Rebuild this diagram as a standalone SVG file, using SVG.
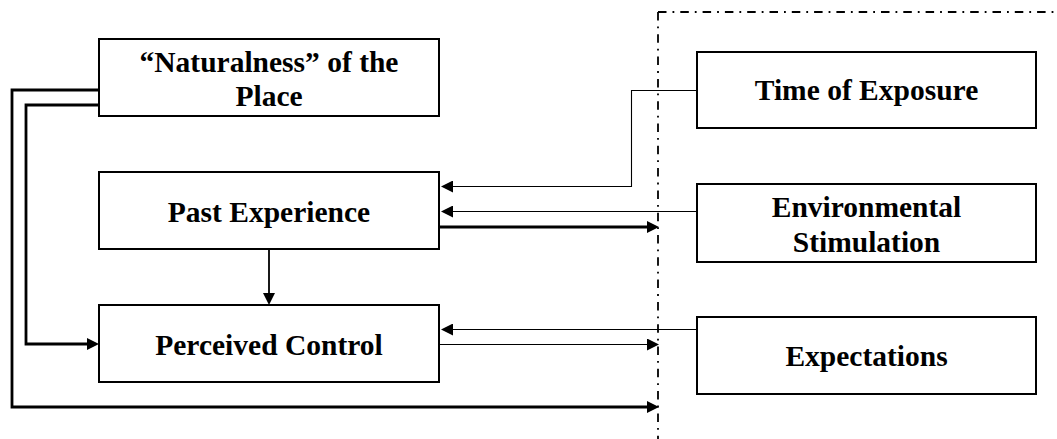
<svg xmlns="http://www.w3.org/2000/svg" width="1057" height="439" viewBox="0 0 1057 439">
<style>
.box{fill:#fff;stroke:#000;stroke-width:2}
.t{font-family:"Liberation Serif","Times New Roman",serif;font-weight:bold;font-size:29.5px;text-anchor:middle;fill:#000}
.thin{fill:none;stroke:#000;stroke-width:1.1}
.mid{fill:none;stroke:#000;stroke-width:1.8}
.thick{fill:none;stroke:#000;stroke-width:2.8}
.dash{fill:none;stroke:#000;stroke-width:1.8;stroke-dasharray:8.5 6 1.8 6}
</style>
<defs>
<marker id="ah" viewBox="0 0 12 12" refX="3" refY="6" markerWidth="12" markerHeight="12" markerUnits="userSpaceOnUse" orient="auto">
<path d="M0,0 L12,6 L0,12 z" fill="#000"/>
</marker>
</defs>
<g id="boundary">
<path class="dash" d="M658,12 H1057"/>
<path class="dash" d="M658,12 V439"/>
</g>
<g id="connectors">
<path class="thick" d="M99,105 H26 V344 H90" marker-end="url(#ah)"/>
<path class="thick" d="M99,90 H12 V407 H650" marker-end="url(#ah)"/>
<path class="thin" d="M697,90.5 H631.5 V186.5 H450" marker-end="url(#ah)"/>
<path class="thin" d="M697,211.5 H450" marker-end="url(#ah)"/>
<path class="thick" d="M439,227 H650" marker-end="url(#ah)"/>
<path class="mid" d="M269,249 V296" marker-end="url(#ah)"/>
<path class="thin" d="M697,329.5 H450" marker-end="url(#ah)"/>
<path class="thin" d="M439,344.5 H650" marker-end="url(#ah)"/>
</g>
<g id="naturalness">
<rect class="box" x="99" y="39" width="340" height="77"/>
<text class="t" x="269" y="72">“Naturalness” of the</text>
<text class="t" x="269" y="106">Place</text>
</g>
<g id="past-experience">
<rect class="box" x="99" y="172" width="340" height="77"/>
<text class="t" x="269" y="222">Past Experience</text>
</g>
<g id="perceived-control">
<rect class="box" x="99" y="305" width="340" height="77"/>
<text class="t" x="269" y="355">Perceived Control</text>
</g>
<g id="time-of-exposure">
<rect class="box" x="697" y="52" width="339" height="76"/>
<text class="t" x="866.5" y="100">Time of Exposure</text>
</g>
<g id="environmental-stimulation">
<rect class="box" x="697" y="184" width="339" height="78"/>
<text class="t" x="866.5" y="217">Environmental</text>
<text class="t" x="866.5" y="252">Stimulation</text>
</g>
<g id="expectations">
<rect class="box" x="697" y="317" width="339" height="77"/>
<text class="t" x="866.5" y="366">Expectations</text>
</g>
</svg>
